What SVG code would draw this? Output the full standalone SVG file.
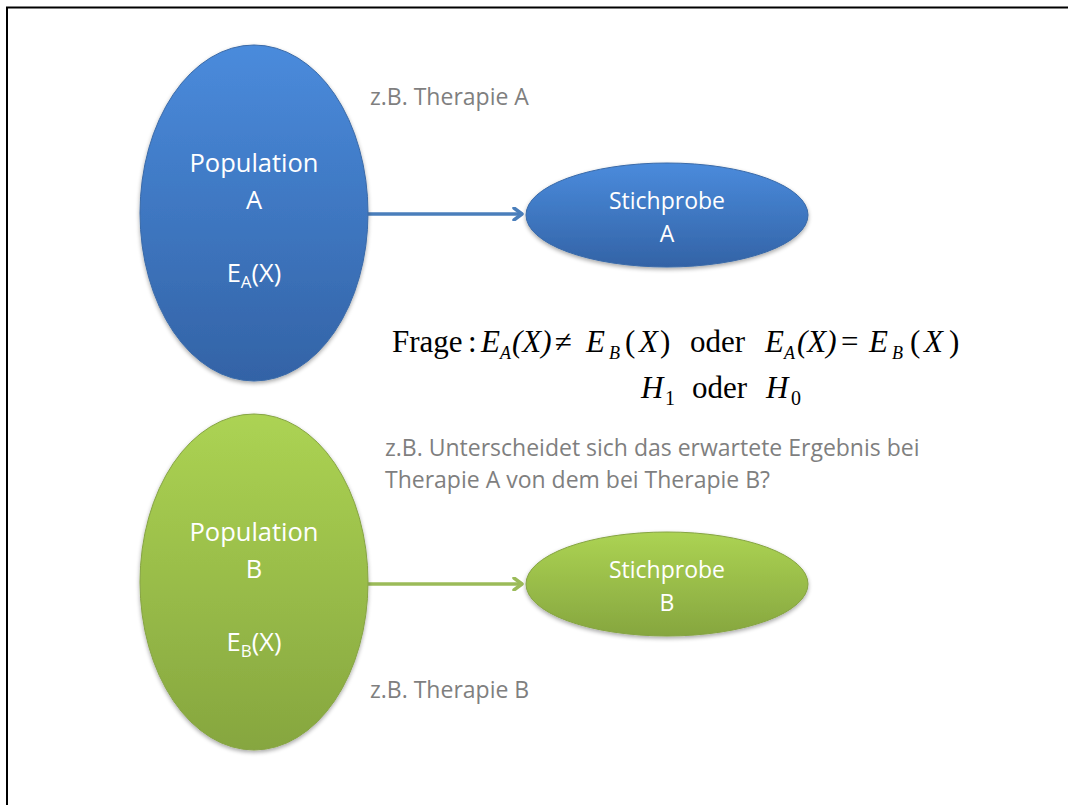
<svg xmlns="http://www.w3.org/2000/svg" width="1068" height="805" viewBox="0 0 1068 805">
<style>
.lbl{font-family:"Open Sans","Liberation Sans",sans-serif;fill:#ffffff;text-anchor:middle}
.note{font-family:"Open Sans","Liberation Sans",sans-serif;fill:#7f7f7f;font-size:23px}
.m{font-family:"Liberation Serif","Times New Roman",serif;fill:#000;font-size:31px}
.i{font-style:italic}
.s{font-size:18px;font-style:italic}
</style>
<defs>
<linearGradient id="gb" x1="0" y1="0" x2="0" y2="1">
<stop offset="0" stop-color="#4a8bdc"/>
<stop offset="1" stop-color="#3363a6"/>
</linearGradient>
<linearGradient id="gg" x1="0" y1="0" x2="0" y2="1">
<stop offset="0" stop-color="#acd353"/>
<stop offset="1" stop-color="#86a63f"/>
</linearGradient>
<filter id="sh" x="-10%" y="-10%" width="120%" height="125%">
<feGaussianBlur in="SourceAlpha" stdDeviation="2"/>
<feOffset dy="2" result="b"/>
<feComponentTransfer><feFuncA type="linear" slope="0.35"/></feComponentTransfer>
<feMerge><feMergeNode/><feMergeNode in="SourceGraphic"/></feMerge>
</filter>
<marker id="ab" markerWidth="12" markerHeight="14" refX="10" refY="7" orient="auto" markerUnits="userSpaceOnUse">
<path d="M2,1 L10,7 L2,13" fill="none" stroke="#4a7ebb" stroke-width="3.5" stroke-linecap="round" stroke-linejoin="round"/>
</marker>
<marker id="ag" markerWidth="12" markerHeight="14" refX="10" refY="7" orient="auto" markerUnits="userSpaceOnUse">
<path d="M2,1 L10,7 L2,13" fill="none" stroke="#9bbb59" stroke-width="3.5" stroke-linecap="round" stroke-linejoin="round"/>
</marker>
</defs>
<rect x="0" y="0" width="1068" height="805" fill="#ffffff"/>
<path d="M7,805 V7.5 H1068" fill="none" stroke="#000" stroke-width="2"/>

<g id="connectors">
<line x1="368" y1="214" x2="522" y2="214" stroke="#4a7ebb" stroke-width="3.5" marker-end="url(#ab)"/>
<line x1="368" y1="584" x2="522" y2="584" stroke="#9bbb59" stroke-width="3.5" marker-end="url(#ag)"/>
</g>

<g id="popA">
<ellipse cx="254" cy="213" rx="114" ry="168" fill="url(#gb)" stroke="#3a6aa8" stroke-width="1" filter="url(#sh)"/>
<text class="lbl" x="254" y="172" font-size="25.5">Population</text>
<text class="lbl" x="254" y="209" font-size="25.5">A</text>
<text class="lbl" x="254" y="282" font-size="25.5">E<tspan font-size="17" dy="6">A</tspan><tspan dy="-6">(X)</tspan></text>
</g>

<g id="stichA">
<ellipse cx="667" cy="215" rx="141" ry="52" fill="url(#gb)" stroke="#3a6aa8" stroke-width="1" filter="url(#sh)"/>
<text class="lbl" x="667" y="209" font-size="23">Stichprobe</text>
<text class="lbl" x="667" y="242" font-size="23">A</text>
</g>

<g id="popB">
<ellipse cx="254" cy="582" rx="114" ry="168" fill="url(#gg)" stroke="#86a444" stroke-width="1" filter="url(#sh)"/>
<text class="lbl" x="254" y="541" font-size="25.5">Population</text>
<text class="lbl" x="254" y="578" font-size="25.5">B</text>
<text class="lbl" x="254" y="651" font-size="25.5">E<tspan font-size="17" dy="6">B</tspan><tspan dy="-6">(X)</tspan></text>
</g>

<g id="stichB">
<ellipse cx="667" cy="584" rx="141" ry="52" fill="url(#gg)" stroke="#86a444" stroke-width="1" filter="url(#sh)"/>
<text class="lbl" x="667" y="578" font-size="23">Stichprobe</text>
<text class="lbl" x="667" y="611" font-size="23">B</text>
</g>

<g id="notes">
<text class="note" x="370" y="105">z.B. Therapie A</text>
<text class="note" x="385" y="456">z.B. Unterscheidet sich das erwartete Ergebnis bei</text>
<text class="note" x="385" y="488">Therapie A von dem bei Therapie B?</text>
<text class="note" x="370" y="698">z.B. Therapie B</text>
</g>

<g id="formula">
<text class="m" y="352"><tspan x="392">Frage</tspan><tspan x="468">:</tspan><tspan x="481" class="i">E</tspan><tspan x="500" class="s" dy="7">A</tspan><tspan x="512" class="i" dy="-7">(X)</tspan><tspan x="555">≠</tspan><tspan x="586" class="i">E</tspan><tspan x="609" class="s" dy="7">B</tspan><tspan x="625" dy="-7">(</tspan><tspan x="639" class="i">X</tspan><tspan x="660">)</tspan><tspan x="690">oder</tspan><tspan x="765" class="i">E</tspan><tspan x="784" class="s" dy="7">A</tspan><tspan x="797" class="i" dy="-7">(X)</tspan><tspan x="841">=</tspan><tspan x="869" class="i">E</tspan><tspan x="892" class="s" dy="7">B</tspan><tspan x="910" dy="-7">(</tspan><tspan x="924" class="i">X</tspan><tspan x="949">)</tspan></text>
<text class="m" y="398"><tspan x="641" class="i">H</tspan><tspan x="665" font-size="20" dy="7">1</tspan><tspan x="692" dy="-7">oder</tspan><tspan x="766" class="i">H</tspan><tspan x="791" font-size="20" dy="7">0</tspan></text>
</g>
</svg>
